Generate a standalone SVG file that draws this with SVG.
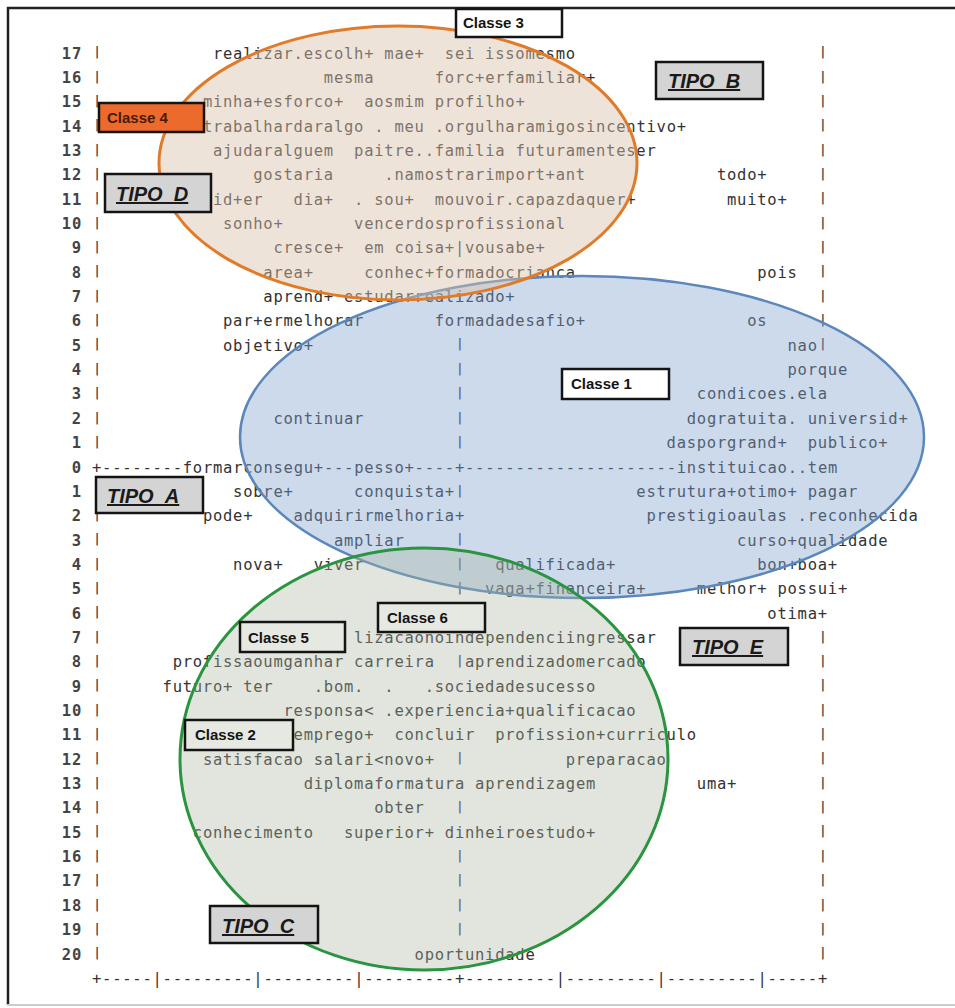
<svg xmlns="http://www.w3.org/2000/svg" width="955" height="1008" viewBox="0 0 955 1008">
<style>
.t{font-family:"DejaVu Sans Mono","Liberation Mono",monospace;font-size:15.5px;letter-spacing:0.75px;fill:#333}
.n{font-family:"DejaVu Sans Mono","Liberation Mono",monospace;font-size:15.5px;letter-spacing:0.75px;fill:#444;font-weight:bold}
.b{font-family:"DejaVu Sans Mono","Liberation Mono",monospace;font-size:12px;fill:#444;font-weight:bold}
.box{stroke:#141414;stroke-width:2.5}
.cl{font-family:"Liberation Sans",Arial,sans-serif;font-weight:bold;font-size:15px;fill:#141414}
.tp{font-family:"Liberation Sans",Arial,sans-serif;font-weight:bold;font-style:italic;font-size:20px;text-decoration:underline;fill:#1a1a1a}
</style>
<rect width="955" height="1008" fill="#ffffff"/>
<g id="frame" fill="none">
<path d="M7 8H955" stroke="#222" stroke-width="2.5"/>
<path d="M8 7V1005" stroke="#222" stroke-width="2.5"/>
<path d="M7 1005H955" stroke="#cccccc" stroke-width="2"/>
</g>
<g id="row-numbers" class="n">
<text x="61.8" y="58.5">17</text><text x="61.8" y="82.9">16</text><text x="61.8" y="107.2">15</text><text x="61.8" y="131.6">14</text><text x="61.8" y="155.9">13</text><text x="61.8" y="180.3">12</text><text x="61.8" y="204.6">11</text><text x="61.8" y="229">10</text><text x="71.8" y="253.3">9</text><text x="71.8" y="277.7">8</text><text x="71.8" y="302">7</text><text x="71.8" y="326.4">6</text><text x="71.8" y="350.7">5</text><text x="71.8" y="375.1">4</text><text x="71.8" y="399.4">3</text><text x="71.8" y="423.8">2</text><text x="71.8" y="448.1">1</text><text x="71.8" y="472.5">0</text><text x="71.8" y="496.8">1</text><text x="71.8" y="521.2">2</text><text x="71.8" y="545.5">3</text><text x="71.8" y="569.9">4</text><text x="71.8" y="594.2">5</text><text x="71.8" y="618.6">6</text><text x="71.8" y="642.9">7</text><text x="71.8" y="667.3">8</text><text x="71.8" y="691.6">9</text><text x="61.8" y="716">10</text><text x="61.8" y="740.3">11</text><text x="61.8" y="764.7">12</text><text x="61.8" y="789">13</text><text x="61.8" y="813.4">14</text><text x="61.8" y="837.7">15</text><text x="61.8" y="862.1">16</text><text x="61.8" y="886.4">17</text><text x="61.8" y="910.8">18</text><text x="61.8" y="935.1">19</text><text x="61.8" y="959.5">20</text>
</g>
<g id="plot-bars" class="b">
<text x="93.4" y="56.2">|</text><text x="819.2" y="56.2">|</text>
<text x="93.4" y="80.6">|</text><text x="819.2" y="80.6">|</text>
<text x="93.4" y="104.9">|</text><text x="819.2" y="104.9">|</text>
<text x="93.4" y="129.3">|</text><text x="819.2" y="129.3">|</text>
<text x="93.4" y="153.6">|</text><text x="819.2" y="153.6">|</text>
<text x="93.4" y="178">|</text><text x="819.2" y="178">|</text>
<text x="93.4" y="202.3">|</text><text x="819.2" y="202.3">|</text>
<text x="93.4" y="226.7">|</text><text x="819.2" y="226.7">|</text>
<text x="93.4" y="251">|</text><text x="819.2" y="251">|</text>
<text x="93.4" y="275.4">|</text><text x="819.2" y="275.4">|</text>
<text x="93.4" y="299.7">|</text><text x="819.2" y="299.7">|</text>
<text x="93.4" y="324.1">|</text><text x="819.2" y="324.1">|</text>
<text x="93.4" y="348.4">|</text><text x="456.3" y="348.4">|</text><text x="819.2" y="348.4">|</text>
<text x="93.4" y="372.8">|</text><text x="456.3" y="372.8">|</text>
<text x="93.4" y="397.1">|</text><text x="456.3" y="397.1">|</text>
<text x="93.4" y="421.5">|</text><text x="456.3" y="421.5">|</text>
<text x="93.4" y="445.8">|</text><text x="456.3" y="445.8">|</text>
<text x="93.4" y="494.5">|</text><text x="456.3" y="494.5">|</text>
<text x="93.4" y="518.9">|</text>
<text x="93.4" y="543.2">|</text><text x="456.3" y="543.2">|</text>
<text x="93.4" y="567.6">|</text><text x="456.3" y="567.6">|</text>
<text x="93.4" y="591.9">|</text><text x="456.3" y="591.9">|</text>
<text x="93.4" y="616.3">|</text><text x="456.3" y="616.3">|</text>
<text x="93.4" y="640.6">|</text><text x="819.2" y="640.6">|</text>
<text x="93.4" y="665">|</text><text x="456.3" y="665">|</text><text x="819.2" y="665">|</text>
<text x="93.4" y="689.3">|</text><text x="819.2" y="689.3">|</text>
<text x="93.4" y="713.7">|</text><text x="819.2" y="713.7">|</text>
<text x="93.4" y="738">|</text><text x="819.2" y="738">|</text>
<text x="93.4" y="762.4">|</text><text x="456.3" y="762.4">|</text><text x="819.2" y="762.4">|</text>
<text x="93.4" y="786.7">|</text><text x="819.2" y="786.7">|</text>
<text x="93.4" y="811.1">|</text><text x="456.3" y="811.1">|</text><text x="819.2" y="811.1">|</text>
<text x="93.4" y="835.4">|</text><text x="819.2" y="835.4">|</text>
<text x="93.4" y="859.8">|</text><text x="456.3" y="859.8">|</text><text x="819.2" y="859.8">|</text>
<text x="93.4" y="884.1">|</text><text x="456.3" y="884.1">|</text><text x="819.2" y="884.1">|</text>
<text x="93.4" y="908.5">|</text><text x="456.3" y="908.5">|</text><text x="819.2" y="908.5">|</text>
<text x="93.4" y="932.8">|</text><text x="456.3" y="932.8">|</text><text x="819.2" y="932.8">|</text>
<text x="93.4" y="957.2">|</text><text x="819.2" y="957.2">|</text>
</g>
<g id="plot-rows" class="t">
<text y="58.5"><tspan x="212.96">realizar.escolh+ mae+</tspan><tspan x="444.8">sei issomesmo</tspan></text>
<text y="82.9"><tspan x="323.84">mesma</tspan><tspan x="434.72">forc+erfamiliar+</tspan></text>
<text y="107.2"><tspan x="202.88">minha+esforco+</tspan><tspan x="364.16">aosmim profilho+</tspan></text>
<text y="131.6"><tspan x="202.88">trabalhardaralgo . meu .orgulharamigosincentivo+</tspan></text>
<text y="155.9"><tspan x="212.96">ajudaralguem</tspan><tspan x="354.08">paitre..familia futuramenteser</tspan></text>
<text y="180.3"><tspan x="253.28">gostaria</tspan><tspan x="384.32">.namostrarimport+ant</tspan><tspan x="716.96">todo+</tspan></text>
<text y="204.6"><tspan x="212.96">id+er</tspan><tspan x="293.6">dia+</tspan><tspan x="354.08">. sou+</tspan><tspan x="434.72">mouvoir.capazdaquer+</tspan><tspan x="727.04">muito+</tspan></text>
<text y="229"><tspan x="223.04">sonho+</tspan><tspan x="354.08">vencerdosprofissional</tspan></text>
<text y="253.3"><tspan x="273.44">cresce+</tspan><tspan x="364.16">em coisa+|vousabe+</tspan></text>
<text y="277.7"><tspan x="263.36">area+</tspan><tspan x="364.16">conhec+formadocrianca</tspan><tspan x="757.28">pois</tspan></text>
<text y="302"><tspan x="263.36">aprend+ estudarrealizado+</tspan></text>
<text y="326.4"><tspan x="223.04">par+ermelhorar</tspan><tspan x="434.72">formadadesafio+</tspan><tspan x="747.2">os</tspan></text>
<text y="350.7"><tspan x="223.04">objetivo+</tspan><tspan x="787.52">nao</tspan></text>
<text y="375.1"><tspan x="787.52">porque</tspan></text>
<text y="399.4"><tspan x="696.8">condicoes.ela</tspan></text>
<text y="423.8"><tspan x="273.44">continuar</tspan><tspan x="686.72">dogratuita. universid+</tspan></text>
<text y="448.1"><tspan x="666.56">dasporgrand+</tspan><tspan x="807.68">publico+</tspan></text>
<text y="472.5"><tspan x="92">+--------formarconsegu+---pesso+----+---------------------instituicao..tem</tspan></text>
<text y="496.8"><tspan x="233.12">sobre+</tspan><tspan x="354.08">conquista+</tspan><tspan x="636.32">estrutura+otimo+ pagar</tspan></text>
<text y="521.2"><tspan x="202.88">pode+</tspan><tspan x="293.6">adquirirmelhoria+</tspan><tspan x="646.4">prestigioaulas .reconhecida</tspan></text>
<text y="545.5"><tspan x="333.92">ampliar</tspan><tspan x="737.12">curso+qualidade</tspan></text>
<text y="569.9"><tspan x="233.12">nova+</tspan><tspan x="313.76">viver</tspan><tspan x="495.2">qualificada+</tspan><tspan x="757.28">bon+boa+</tspan></text>
<text y="594.2"><tspan x="485.12">vaga+financeira+</tspan><tspan x="696.8">melhor+ possui+</tspan></text>
<text y="618.6"><tspan x="767.36">otima+</tspan></text>
<text y="642.9"><tspan x="354.08">lizacaonoindependenciingressar</tspan></text>
<text y="667.3"><tspan x="172.64">profissaoumganhar carreira</tspan><tspan x="464.96">aprendizadomercado</tspan></text>
<text y="691.6"><tspan x="162.56">futuro+ ter</tspan><tspan x="313.76">.bom.</tspan><tspan x="384.32">.</tspan><tspan x="424.64">.sociedadesucesso</tspan></text>
<text y="716"><tspan x="283.52">responsa&lt; .experiencia+qualificacao</tspan></text>
<text y="740.3"><tspan x="293.6">emprego+</tspan><tspan x="394.4">concluir</tspan><tspan x="495.2">profission+curriculo</tspan></text>
<text y="764.7"><tspan x="202.88">satisfacao salari&lt;novo+</tspan><tspan x="565.76">preparacao</tspan></text>
<text y="789"><tspan x="303.68">diplomaformatura aprendizagem</tspan><tspan x="696.8">uma+</tspan></text>
<text y="813.4"><tspan x="374.24">obter</tspan></text>
<text y="837.7"><tspan x="192.8">conhecimento</tspan><tspan x="344">superior+ dinheiroestudo+</tspan></text>
<text y="959.5"><tspan x="414.56">oportunidade</tspan></text>
<text y="983.8"><tspan x="92">+-----|---------|---------|---------+---------|---------|---------|-----+</tspan></text>
</g>
<g id="cluster-blue">
<ellipse cx="582" cy="437" rx="342" ry="161" fill="#7fa3cf" fill-opacity="0.4" stroke="#5b87bb" stroke-width="2.5"/>
</g>
<g id="cluster-green">
<ellipse cx="424" cy="759" rx="244" ry="211" fill="#a9b59f" fill-opacity="0.35" stroke="#2a9440" stroke-width="3"/>
</g>
<g id="cluster-orange">
<ellipse cx="398" cy="163" rx="239" ry="137" fill="#d9c0aa" fill-opacity="0.45" stroke="#e07b2a" stroke-width="3"/>
</g>
<g id="classe3"><rect class="box" x="456" y="9" width="106" height="28" fill="#ffffff"/><text class="cl" x="463" y="28">Classe 3</text></g>
<g id="classe4"><rect class="box" x="99" y="103" width="105" height="29" fill="#ec6a2c"/><text class="cl" x="107" y="123" style="fill:#4a1a08">Classe 4</text></g>
<g id="tipo-b"><rect class="box" x="656" y="62" width="107" height="37" fill="#d4d4d4"/><text class="tp" x="668" y="88">TIPO_B</text></g>
<g id="tipo-d"><rect class="box" x="105" y="174" width="106" height="38" fill="#d4d4d4"/><text class="tp" x="116" y="201">TIPO_D</text></g>
<g id="classe1"><rect class="box" x="562" y="369" width="107" height="30" fill="#ffffff"/><text class="cl" x="571" y="389">Classe 1</text></g>
<g id="tipo-a"><rect class="box" x="96" y="477" width="107" height="36" fill="#d4d4d4"/><text class="tp" x="107" y="503">TIPO_A</text></g>
<g id="classe6"><rect class="box" x="378" y="603" width="107" height="29" fill="#e6e9e2"/><text class="cl" x="387" y="623">Classe 6</text></g>
<g id="classe5"><rect class="box" x="240" y="622" width="105" height="30" fill="#e6e9e2"/><text class="cl" x="248" y="643">Classe 5</text></g>
<g id="tipo-e"><rect class="box" x="680" y="628" width="108" height="37" fill="#d4d4d4"/><text class="tp" x="692" y="654">TIPO_E</text></g>
<g id="classe2"><rect class="box" x="185" y="720" width="108" height="30" fill="#e6e9e2"/><text class="cl" x="195" y="740">Classe 2</text></g>
<g id="tipo-c"><rect class="box" x="210" y="906" width="108" height="37" fill="#d4d4d4"/><text class="tp" x="222" y="933">TIPO_C</text></g>
</svg>
